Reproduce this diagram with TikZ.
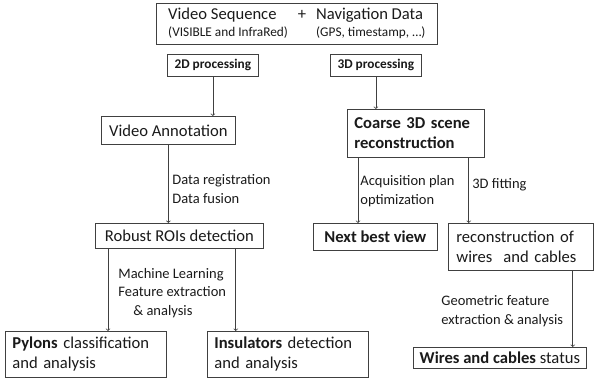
\documentclass[tikz,border=0pt]{standalone}
\usepackage{fontspec}
\setmainfont{Carlito}
\usetikzlibrary{positioning}
\definecolor{linegray}{HTML}{404040}
\definecolor{textgray}{HTML}{1A1A1A}
\newcommand{\bigfont}{\fontsize{16.6}{20}\selectfont}
\newcommand{\labfont}{\fontsize{14.5}{18.5}\selectfont}
\newcommand{\tagfont}{\fontsize{13.3}{16}\selectfont}

\begin{document}
\begin{tikzpicture}[->,
            x = 1pt, y = -1pt,
            color = linegray, line width = 0.75pt,
            box/.style = {draw,fill=white,text=textgray,font=\bigfont,
                inner sep=0pt,anchor=north west,align=center},
            lbox/.style = {box,align=left,inner xsep=7pt},
            tagbox/.style = {box,font=\tagfont\bfseries,
                minimum width=91pt,minimum height=22pt},
            unbox/.style = {text=textgray,font=\labfont,inner sep=0pt,
                anchor=west,align=left}]
            \useasboundingbox (0,0) rectangle (594,380);
            % input data
            \node[box,minimum width=281pt,minimum height=41pt](src) at (156,3)
                {\begin{tabular}{@{}l@{\hspace{10pt}}c@{\hspace{10pt}}l@{}}
                 Video Sequence & + & Navigation Data\\[-3pt]
                 \tagfont (VISIBLE and InfraRed) & & \tagfont (GPS, timestamp, \ldots)
                 \end{tabular}};
            \node[tagbox](proc2d) at (167,54) {2D processing};
            \node[tagbox](proc3d) at (330,54) {3D processing};
            % 2D branch
            \node[box,minimum width=134pt,minimum height=28pt](annot) at (101,116)
                {Video Annotation};
            \node[box,minimum width=168pt,minimum height=25pt](rois) at (95,223)
                {Robust ROIs detection};
            \node[lbox,text width=147pt,minimum height=46pt](pylons) at (5,331)
                {\textbf{Pylons} classification\\ and analysis};
            \node[lbox,text width=147pt,minimum height=46pt](insul) at (207,331)
                {\textbf{Insulators} detection\\ and analysis};
            % 3D branch
            \node[lbox,text width=123pt,minimum height=48pt,font=\bigfont\bfseries](coarse) at (347,109)
                {Coarse 3D scene\\ reconstruction};
            \node[box,minimum width=124pt,minimum height=27pt,font=\bigfont\bfseries](nbv) at (313,223)
                {Next best view};
            \node[lbox,inner xsep=8pt,text width=129pt,minimum height=47pt](recon) at (448,223)
                {reconstruction of\\ wires~ and cables};
            \node[box,minimum width=173pt,minimum height=21pt](status) at (413,347)
                {\textbf{Wires and cables} status};
            % edge labels
            \node[unbox](reglab) at (172,189) {Data registration\\ Data fusion};
            \node[unbox](mllab) at (118,293)
                {Machine Learning\\ Feature extraction\\ \hspace*{15pt}\& analysis};
            \node[unbox](acqlab) at (360,191) {Acquisition plan\\ optimization};
            \node[unbox](fitlab) at (472,185) {3D fitting};
            \node[unbox](geolab) at (441,311) {Geometric feature\\ extraction \& analysis};
            % arrow feet
            \coordinate (roiL) at ([xshift=13pt]rois.south west);
            \coordinate (roiR) at ([xshift=-28pt]rois.south east);
            \coordinate (coarseL) at ([xshift=11pt]coarse.south west);
            \coordinate (coarseR) at ([xshift=-16pt]coarse.south east);
            \coordinate (reconR) at ([xshift=-21pt]recon.south east);
            \path
                (proc2d.south) edge (proc2d.south |- annot.north)
                (annot.south) edge (annot.south |- rois.north)
                (roiL) edge (roiL |- pylons.north)
                (roiR) edge (roiR |- insul.north)
                (proc3d.south) edge (proc3d.south |- coarse.north)
                (coarseL) edge (coarseL |- nbv.north)
                (coarseR) edge (coarseR |- recon.north)
                (reconR) edge (reconR |- status.north);
        \end{tikzpicture}
\end{document}
